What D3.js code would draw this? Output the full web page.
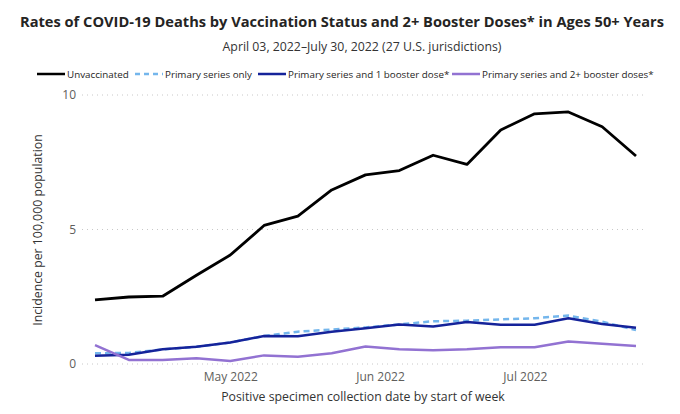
<!DOCTYPE html>
<html>
<head>
<meta charset="utf-8">
<script src="https://cdn.jsdelivr.net/npm/d3@7"></script>
<style>
  body { margin: 0; background: #fff; }
  svg { font-family: "Open Sans", "Noto Sans", sans-serif; }
</style>
</head>
<body>
<svg id="chart" width="680" height="414"></svg>
<script>
// Week start dates (27 U.S. jurisdictions)
var weeks = ["2022-04-03", "2022-04-10", "2022-04-17", "2022-04-24", "2022-05-01",
  "2022-05-08", "2022-05-15", "2022-05-22", "2022-05-29", "2022-06-05", "2022-06-12",
  "2022-06-19", "2022-06-26", "2022-07-03", "2022-07-10", "2022-07-17", "2022-07-24"];

// Rates per 100,000 population
var unvaccinated = [2.38, 2.49, 2.52, 3.3, 4.05, 5.15, 5.5, 6.47, 7.03, 7.19, 7.76, 7.42, 8.7, 9.3, 9.37, 8.82, 7.73];
var primaryOnly = [0.40, 0.41, 0.54, 0.64, 0.80, 1.04, 1.20, 1.28, 1.36, 1.47, 1.59, 1.61, 1.66, 1.70, 1.80, 1.57, 1.26];
var oneBooster = [0.31, 0.34, 0.55, 0.64, 0.80, 1.04, 1.03, 1.20, 1.33, 1.47, 1.39, 1.56, 1.46, 1.46, 1.70, 1.49, 1.35];
var twoBoosters = [0.70, 0.15, 0.15, 0.21, 0.11, 0.32, 0.27, 0.40, 0.65, 0.55, 0.51, 0.55, 0.62, 0.62, 0.84, 0.75, 0.67];

var seriesNames = ["Unvaccinated", "Primary series only", "Primary series and 1 booster dose*", "Primary series and 2+ booster doses*"];
var yTicks = [0, 5, 10];

var parseDate = d3.timeParse("%Y-%m-%d");
var dates = weeks.map(parseDate);

var series = [
  { name: seriesNames[0], values: unvaccinated, color: "#000000", dash: null, width: 2.8 },
  { name: seriesNames[1], values: primaryOnly, color: "#74b6ec", dash: "6,4", width: 2.5 },
  { name: seriesNames[2], values: oneBooster, color: "#15239a", dash: null, width: 2.5 },
  { name: seriesNames[3], values: twoBoosters, color: "#9272d2", dash: null, width: 2.5 }
];

var svg = d3.select("#chart");

// Title and subtitle
svg.append("text")
  .attr("x", 342).attr("y", 27)
  .attr("text-anchor", "middle")
  .attr("font-size", 14.5).attr("font-weight", "bold")
  .attr("fill", "#252423")
  .attr("textLength", 644)
  .attr("lengthAdjust", "spacingAndGlyphs")
  .text("Rates of COVID-19 Deaths by Vaccination Status and 2+ Booster Doses* in Ages 50+ Years");

svg.append("text")
  .attr("x", 362).attr("y", 51)
  .attr("text-anchor", "middle")
  .attr("font-size", 12.3)
  .attr("fill", "#333")
  .text("April 03, 2022\u2013July 30, 2022 (27 U.S. jurisdictions)");

// Scales
var x = d3.scaleTime()
  .domain(d3.extent(dates))
  .range([95, 636]);

var y = d3.scaleLinear()
  .domain([0, 10])
  .range([364, 95]);

// Gridlines
svg.append("g")
  .selectAll("line")
  .data(yTicks)
  .join("line")
  .attr("x1", 82).attr("x2", 646)
  .attr("y1", d => y(d)).attr("y2", d => y(d))
  .attr("stroke", "#c8c8c8")
  .attr("stroke-width", 1)
  .attr("stroke-dasharray", "1,4");

// Y axis
var yAxis = svg.append("g")
  .attr("transform", "translate(76,0)")
  .call(d3.axisLeft(y).tickValues(yTicks).tickSize(0).tickPadding(0));
yAxis.select(".domain").remove();
yAxis.selectAll("text")
  .attr("font-size", 12)
  .attr("font-family", "Open Sans, sans-serif")
  .attr("fill", "#605e5c");

// X axis
var xAxis = svg.append("g")
  .attr("transform", "translate(0,366)")
  .call(d3.axisBottom(x)
    .tickValues([new Date(2022, 4, 1), new Date(2022, 5, 1), new Date(2022, 6, 1)])
    .tickFormat(d3.timeFormat("%b %Y"))
    .tickSize(0).tickPadding(6));
xAxis.select(".domain").remove();
xAxis.selectAll("text")
  .attr("font-size", 12)
  .attr("font-family", "Open Sans, sans-serif")
  .attr("fill", "#605e5c");

// Axis titles
svg.append("text")
  .attr("transform", "translate(42,230) rotate(-90)")
  .attr("text-anchor", "middle")
  .attr("font-size", 12.3)
  .attr("fill", "#333")
  .text("Incidence per 100,000 population");

svg.append("text")
  .attr("x", 363).attr("y", 401)
  .attr("text-anchor", "middle")
  .attr("font-size", 12.3)
  .attr("fill", "#333")
  .text("Positive specimen collection date by start of week");

// Lines
var line = d3.line()
  .x((d, i) => x(dates[i]))
  .y(d => y(d));

svg.append("g")
  .selectAll("path")
  .data(series)
  .join("path")
  .attr("d", d => line(d.values))
  .attr("fill", "none")
  .attr("stroke", d => d.color)
  .attr("stroke-width", d => d.width)
  .attr("stroke-dasharray", d => d.dash)
  .attr("stroke-linejoin", "round");

// Legend
var legendX = [37, 135, 258, 452];
var legend = svg.append("g")
  .selectAll("g")
  .data(series)
  .join("g")
  .attr("transform", (d, i) => "translate(" + legendX[i] + ",74)");

legend.append("line")
  .attr("x1", 0).attr("x2", 28)
  .attr("stroke", d => d.color)
  .attr("stroke-width", 2.5)
  .attr("stroke-dasharray", d => d.dash ? "5,4" : null);

legend.append("text")
  .attr("x", 30).attr("y", 3.5)
  .attr("font-size", 9.8)
  .attr("fill", "#252423")
  .text(d => d.name);
</script>
</body>
</html>
